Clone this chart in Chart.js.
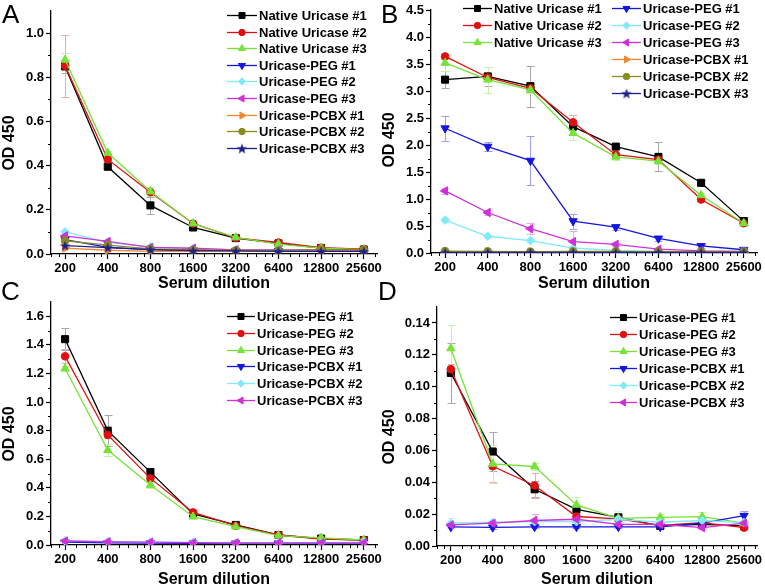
<!DOCTYPE html>
<html>
<head>
<meta charset="utf-8">
<script src="https://cdn.jsdelivr.net/npm/chart.js@4.4.0/dist/chart.umd.min.js"></script>
<style>
  body { margin: 0; background: #fff; width: 765px; height: 588px; overflow: hidden; position: relative; }
  canvas { position: absolute; left: 0; top: 0; }
  .tag { position: absolute; font: 26px/26px "Liberation Sans", Arial, sans-serif; color: #000; }
</style>
</head>
<body>
<canvas id="chartA" width="765" height="588"></canvas>
<canvas id="chartB" width="765" height="588"></canvas>
<canvas id="chartC" width="765" height="588"></canvas>
<canvas id="chartD" width="765" height="588"></canvas>
<div class="tag" style="left:2px;top:1px">A</div>
<div class="tag" style="left:381px;top:1px">B</div>
<div class="tag" style="left:1px;top:278px">C</div>
<div class="tag" style="left:378px;top:278px">D</div>
<script>
// x categories (serum dilution)
const dilutions = ['200', '400', '800', '1600', '3200', '6400', '12800', '25600'];

const labelsAB = ['Native Uricase #1', 'Native Uricase #2', 'Native Uricase #3',
    'Uricase-PEG #1', 'Uricase-PEG #2', 'Uricase-PEG #3',
    'Uricase-PCBX #1', 'Uricase-PCBX #2', 'Uricase-PCBX #3'];
const labelsCD = ['Uricase-PEG #1', 'Uricase-PEG #2', 'Uricase-PEG #3',
    'Uricase-PCBX #1', 'Uricase-PCBX #2', 'Uricase-PCBX #3'];

// panel A
const aNative1 = [0.849, 0.395, 0.22, 0.12, 0.072, 0.048, 0.027, 0.02];
const aNative2 = [0.852, 0.428, 0.28, 0.138, 0.073, 0.052, 0.029, 0.022];
const aNative3 = [0.879, 0.458, 0.283, 0.138, 0.075, 0.045, 0.027, 0.02];
const aPeg1 = [0.065, 0.03, 0.02, 0.017, 0.015, 0.014, 0.014, 0.013];
const aPeg2 = [0.1, 0.053, 0.032, 0.024, 0.019, 0.018, 0.018, 0.017];
const aPeg3 = [0.082, 0.057, 0.03, 0.026, 0.019, 0.018, 0.018, 0.017];
const aPcbx1 = [0.027, 0.017, 0.012, 0.012, 0.012, 0.012, 0.012, 0.012];
const aPcbx2 = [0.06, 0.04, 0.023, 0.018, 0.016, 0.016, 0.02, 0.02];
const aPcbx3 = [0.038, 0.029, 0.02, 0.015, 0.014, 0.012, 0.012, 0.012];
const aNative1Err = [0.03, 0.01, 0.04, 0.005, 0.003, 0.003, 0, 0];
const aNative2Err = [0.14, 0.01, 0.01, 0.005, 0.003, 0.003, 0, 0];
const aNative3Err = [0.03, 0.01, 0.02, 0.005, 0.003, 0.003, 0, 0];

// panel B
const bNative1 = [3.21, 3.27, 3.09, 2.34, 1.97, 1.78, 1.30, 0.59];
const bNative2 = [3.64, 3.25, 3.05, 2.42, 1.82, 1.73, 0.99, 0.55];
const bNative3 = [3.52, 3.21, 3.02, 2.22, 1.78, 1.70, 1.07, 0.55];
const bPeg1 = [2.31, 1.97, 1.71, 0.59, 0.48, 0.27, 0.13, 0.06];
const bPeg2 = [0.61, 0.31, 0.23, 0.09, 0.05, 0.03, 0.02, 0.02];
const bPeg3 = [1.15, 0.75, 0.45, 0.21, 0.16, 0.07, 0.04, 0.03];
const bPcbx1 = [0.02, 0.02, 0.02, 0.02, 0.02, 0.02, 0.02, 0.02];
const bPcbx2 = [0.035, 0.03, 0.025, 0.03, 0.03, 0.025, 0.025, 0.025];
const bPcbx3 = [0.01, 0.01, 0.01, 0.01, 0.01, 0.01, 0.01, 0.01];
const bNative1Err = [0.16, 0.18, 0.38, 0.05, 0.04, 0.27, 0.06, 0.07];
const bNative2Err = [0.04, 0.05, 0.05, 0.13, 0.04, 0.05, 0.03, 0.04];
const bNative3Err = [0.15, 0.24, 0.06, 0.13, 0.05, 0.05, 0.05, 0.05];
const bPeg1Err = [0.23, 0.08, 0.45, 0.14, 0.06, 0.05, 0.03, 0.02];
const bPeg2Err = [0.03, 0.03, 0.03, 0.03, 0.01, 0.01, 0, 0];
const bPeg3Err = [0.05, 0.04, 0.1, 0.2, 0.03, 0.02, 0.01, 0.01];

// panel C
const cPeg1 = [1.44, 0.80, 0.51, 0.217, 0.14, 0.07, 0.045, 0.035];
const cPeg2 = [1.32, 0.77, 0.466, 0.228, 0.135, 0.07, 0.042, 0.035];
const cPeg3 = [1.235, 0.664, 0.42, 0.198, 0.128, 0.065, 0.05, 0.035];
const cPcbx1 = [0.02, 0.015, 0.013, 0.012, 0.012, 0.012, 0.012, 0.015];
const cPcbx2 = [0.03, 0.025, 0.02, 0.018, 0.015, 0.015, 0.015, 0.02];
const cPcbx3 = [0.028, 0.022, 0.02, 0.016, 0.015, 0.015, 0.015, 0.015];
const cPeg1Err = [0.075, 0.11, 0.03, 0.01, 0.01, 0.005, 0, 0];
const cPeg2Err = [0.05, 0.02, 0.02, 0.01, 0.01, 0.005, 0, 0];
const cPeg3Err = [0.02, 0.04, 0.02, 0.01, 0.01, 0.005, 0, 0];

// panel D
const dPeg1 = [0.1086, 0.0593, 0.0356, 0.023, 0.018, 0.0126, 0.0136, 0.0126];
const dPeg2 = [0.111, 0.050, 0.038, 0.0185, 0.017, 0.013, 0.0147, 0.0115];
const dPeg3 = [0.124, 0.0515, 0.0499, 0.0258, 0.0174, 0.018, 0.0184, 0.0143];
const dPcbx1 = [0.012, 0.0117, 0.012, 0.012, 0.012, 0.012, 0.0143, 0.019];
const dPcbx2 = [0.0143, 0.0149, 0.0153, 0.0153, 0.0168, 0.0149, 0.016, 0.0147];
const dPcbx3 = [0.0132, 0.0143, 0.016, 0.0168, 0.0136, 0.0136, 0.0115, 0.0143];
const dPeg1Err = [0.019, 0.0125, 0.005, 0.002, 0.002, 0.001, 0.001, 0.001];
const dPeg2Err = [0.003, 0.01, 0.008, 0.002, 0.001, 0.001, 0.001, 0.001];
const dPeg3Err = [0.015, 0.012, 0.002, 0.005, 0.002, 0.002, 0.003, 0.001];
const dPcbx1Err = [0.001, 0.001, 0.001, 0.001, 0.001, 0.001, 0.001, 0.003];
const dPcbx2Err = [0.003, 0.001, 0.001, 0.002, 0.005, 0.001, 0.001, 0.001];
const dPcbx3Err = [0.001, 0.001, 0.004, 0.002, 0.001, 0.001, 0.001, 0.001];

Chart.defaults.font.family = '"Liberation Sans", Arial, sans-serif';
Chart.defaults.font.weight = 'bold';
Chart.defaults.font.size = 13;
Chart.defaults.color = '#000';

// filled five point star (Chart.js 'star' is only strokes)
function starMarker(color) {
    const c = document.createElement('canvas');
    c.width = 12;
    c.height = 12;
    const g = c.getContext('2d');
    g.fillStyle = color;
    g.beginPath();
    for (let k = 0; k < 10; k++) {
        const r = k % 2 ? 2.3 : 5.6;
        const a = -Math.PI / 2 + k * Math.PI / 5;
        g.lineTo(6 + r * Math.cos(a), 6.5 + r * Math.sin(a));
    }
    g.closePath();
    g.fill();
    return c;
}

// marker / colour set, same order in every panel
const styles = [
    { color: '#000000', err: '#a8a8a8', shape: 'rect', radius: 5, rotation: 0 },
    { color: '#e01010', err: '#f2a8a8', shape: 'circle', radius: 3.8, rotation: 0 },
    { color: '#76e23a', err: '#c4f0a8', shape: 'triangle', radius: 4.8, rotation: 0 },
    { color: '#1515e0', err: '#a0a0f0', shape: 'triangle', radius: 4.8, rotation: 180 },
    { color: '#80eaf8', err: '#c8f4fa', shape: 'rectRot', radius: 4.3, rotation: 0 },
    { color: '#d030d8', err: '#eaa8ee', shape: 'triangle', radius: 4.8, rotation: -90 },
    { color: '#ee8830', err: '#f6c8a0', shape: 'triangle', radius: 4.8, rotation: 90 },
    { color: '#8a8a22', err: '#c8c8a0', shape: 'circle', radius: 3.8, rotation: 0 },
    { color: '#20208a', err: '#a0a0c8', shape: starMarker('#20208a'), radius: 5, rotation: 0 }
];

const panels = [
    {
        id: 'chartA', left: 0, labels: labelsAB,
        values: [aNative1, aNative2, aNative3, aPeg1, aPeg2, aPeg3, aPcbx1, aPcbx2, aPcbx3],
        errors: [aNative1Err, aNative2Err, aNative3Err],
        yMax: 1.1, yStep: 0.2, digits: 1,
        area: { left: 51, top: 11, right: 377, bottom: 254 }, xH: 38, titleY: 143,
        legend: [{ x: 227, y: 15, step: 16.6, len: 30, textX: 259, items: [0, 1, 2, 3, 4, 5, 6, 7, 8] }]
    },
    {
        id: 'chartB', left: 380, labels: labelsAB,
        values: [bNative1, bNative2, bNative3, bPeg1, bPeg2, bPeg3, bPcbx1, bPcbx2, bPcbx3],
        errors: [bNative1Err, bNative2Err, bNative3Err, bPeg1Err, bPeg2Err, bPeg3Err],
        yMax: 4.5, yStep: 0.5, digits: 1,
        area: { left: 431, top: 10, right: 757, bottom: 253 }, xH: 39, titleY: 140,
        legend: [
            { x: 463, y: 7.5, step: 17, len: 29, textX: 494, items: [0, 1, 2] },
            { x: 612, y: 7.5, step: 17, len: 29, textX: 643, items: [3, 4, 5, 6, 7, 8] }
        ]
    },
    {
        id: 'chartC', left: 0, labels: labelsCD,
        values: [cPeg1, cPeg2, cPeg3, cPcbx1, cPcbx2, cPcbx3],
        errors: [cPeg1Err, cPeg2Err, cPeg3Err],
        yMax: 1.7, yStep: 0.2, digits: 1,
        area: { left: 51, top: 302, right: 377, bottom: 545 }, xH: 43, titleY: 434,
        legend: [{ x: 227, y: 316, step: 16.8, len: 28, textX: 257, items: [0, 1, 2, 3, 4, 5] }]
    },
    {
        id: 'chartD', left: 380, labels: labelsCD,
        values: [dPeg1, dPeg2, dPeg3, dPcbx1, dPcbx2, dPcbx3],
        errors: [dPeg1Err, dPeg2Err, dPeg3Err, dPcbx1Err, dPcbx2Err, dPcbx3Err],
        yMax: 0.15, yStep: 0.02, digits: 2,
        area: { left: 437, top: 307, right: 757, bottom: 546 }, xH: 42, titleY: 437,
        legend: [{ x: 610, y: 317, step: 17, len: 27, textX: 639, items: [0, 1, 2, 3, 4, 5] }]
    }
];

// error bars behind the lines
const errorBars = {
    id: 'errorBars',
    beforeDatasetsDraw(chart) {
        const { ctx, scales: { x, y } } = chart;
        ctx.save();
        ctx.lineWidth = 1;
        chart.data.datasets.forEach(ds => {
            if (!ds.errors) return;
            ctx.strokeStyle = ds.errorColor;
            ctx.beginPath();
            ds.errors.forEach((e, i) => {
                if (!e) return;
                const px = Math.round(x.getPixelForValue(i)) + 0.5;
                const top = Math.round(y.getPixelForValue(ds.data[i].y + e)) + 0.5;
                const bottom = Math.round(y.getPixelForValue(Math.max(ds.data[i].y - e, 0))) + 0.5;
                ctx.moveTo(px, top); ctx.lineTo(px, bottom);
                ctx.moveTo(px - 4, top); ctx.lineTo(px + 4, top);
                ctx.moveTo(px - 4, bottom); ctx.lineTo(px + 4, bottom);
            });
            ctx.stroke();
        });
        ctx.restore();
    }
};

function makePanel(p) {
    const datasets = p.values.map((vals, i) => {
        const s = styles[i];
        return {
            label: p.labels[i],
            data: vals.map((v, k) => ({ x: k, y: v })),
            errors: p.errors[i] || null,
            errorColor: s.err,
            borderColor: s.color,
            backgroundColor: s.color,
            borderWidth: 1.3,
            pointStyle: s.shape,
            pointRotation: s.rotation,
            pointRadius: s.radius,
            pointBorderWidth: 1,
            pointBackgroundColor: s.color,
            pointBorderColor: s.color,
            tension: 0,
            order: p.values.length - i
        };
    });

    // minor ticks, y title and the legend box
    const extras = {
        id: 'extras',
        afterDraw(chart) {
            const { ctx, scales: { x, y } } = chart;
            ctx.save();
            ctx.strokeStyle = '#000';
            ctx.lineWidth = 1;
            ctx.beginPath();
            for (let k = 0; (k + 0.5) * p.yStep < p.yMax; k++) {
                const py = Math.round(y.getPixelForValue((k + 0.5) * p.yStep)) + 0.5;
                ctx.moveTo(x.left, py); ctx.lineTo(x.left - 3, py);
            }
            for (let i = -1; i < dilutions.length; i++) {
                for (let k = 1; k <= 4; k++) {
                    const v = i + Math.log2(1 + k / 5);
                    if (v <= x.min || v >= x.max) continue;
                    const px = Math.round(x.getPixelForValue(v)) + 0.5;
                    ctx.moveTo(px, y.bottom); ctx.lineTo(px, y.bottom + 3);
                }
            }
            ctx.stroke();

            ctx.fillStyle = '#000';
            ctx.font = 'bold 16px "Liberation Sans", Arial, sans-serif';
            ctx.textAlign = 'center';
            ctx.textBaseline = 'middle';
            ctx.translate(p.left + 10, p.titleY);
            ctx.rotate(-Math.PI / 2);
            ctx.fillText('OD 450', 0, 0);
            ctx.setTransform(1, 0, 0, 1, 0, 0);

            ctx.font = 'bold 13px "Liberation Sans", Arial, sans-serif';
            ctx.textAlign = 'left';
            p.legend.forEach(col => {
                col.items.forEach((idx, row) => {
                    const ds = chart.data.datasets[idx];
                    const ly = Math.round(col.y + row * col.step) + 0.5;
                    ctx.strokeStyle = ds.borderColor;
                    ctx.lineWidth = 1.3;
                    ctx.beginPath();
                    ctx.moveTo(col.x, ly); ctx.lineTo(col.x + col.len, ly);
                    ctx.stroke();
                    ctx.fillStyle = ds.borderColor;
                    ctx.lineWidth = 1;
                    Chart.helpers.drawPoint(ctx, {
                        pointStyle: ds.pointStyle, rotation: ds.pointRotation,
                        radius: ds.pointRadius * 0.85, borderWidth: 1
                    }, col.x + col.len / 2, ly);
                    ctx.fillStyle = '#000';
                    ctx.fillText(ds.label, col.textX, ly + 0.5);
                });
            });
            ctx.restore();
        }
    };

    const a = p.area;
    return new Chart(document.getElementById(p.id), {
        type: 'line',
        data: { datasets },
        options: {
            responsive: false,
            animation: false,
            devicePixelRatio: 1,
            layout: { padding: { left: p.left, top: a.top, right: 765 - a.right, bottom: 588 - a.bottom - p.xH } },
            plugins: { legend: { display: false }, tooltip: { enabled: false } },
            scales: {
                x: {
                    type: 'linear', min: -0.33, max: 7.31,
                    afterBuildTicks: s => { s.ticks = dilutions.map((d, i) => ({ value: i })); },
                    afterFit: s => { s.height = p.xH; },
                    ticks: { callback: v => dilutions[v], autoSkip: false, maxRotation: 0, padding: 2, color: '#000' },
                    grid: { drawOnChartArea: false, drawTicks: true, tickLength: 5, tickColor: '#000', tickWidth: 1.2 },
                    border: { color: '#000', width: 1.3 },
                    title: { display: true, text: 'Serum dilution', font: { size: 16, weight: 'bold', lineHeight: 1 }, padding: 0, color: '#000' }
                },
                y: {
                    min: 0, max: p.yMax,
                    afterFit: s => { s.width = a.left - p.left; },
                    ticks: { stepSize: p.yStep, includeBounds: false, padding: 2, color: '#000', callback: v => v.toFixed(p.digits) },
                    grid: { drawOnChartArea: false, drawTicks: true, tickLength: 5, tickColor: '#000', tickWidth: 1.2 },
                    border: { color: '#000', width: 1.3 }
                }
            }
        },
        plugins: [errorBars, extras]
    });
}

panels.forEach(makePanel);
</script>
</body>
</html>
